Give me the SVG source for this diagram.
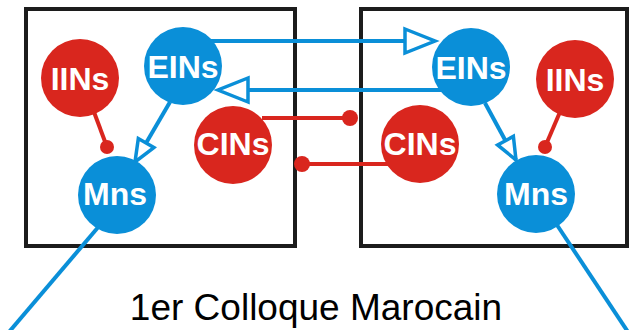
<svg xmlns="http://www.w3.org/2000/svg" width="632" height="330" viewBox="0 0 632 330">
<style>
.box{fill:none;stroke:#1c1c1c;stroke-width:4}
.b{fill:#0a8fd8}
.r{fill:#d9261e}
.lb{font-family:"Liberation Sans",Arial,sans-serif;font-weight:bold;font-size:32px;fill:#fff;text-anchor:middle}
.bl{stroke:#0a8fd8;stroke-width:4;fill:none}
.rl{stroke:#d9261e;stroke-width:4;fill:none}
.title{font-family:"Liberation Sans",Arial,sans-serif;font-size:37px;fill:#000;text-anchor:middle}
</style>
<defs>
<marker id="big" markerUnits="userSpaceOnUse" markerWidth="40" markerHeight="32" viewBox="-4 -4 40 32" refX="30" refY="12" orient="auto" overflow="visible">
<path d="M0,0 L30,12 L0,24 Z" fill="#fff" stroke="#0a8fd8" stroke-width="3.5" stroke-linejoin="miter"/>
</marker>
<marker id="small" markerUnits="userSpaceOnUse" markerWidth="30" markerHeight="26" viewBox="-4 -4 30 26" refX="22" refY="9" orient="auto" overflow="visible">
<path d="M0,0 L22,9 L0,18 Z" fill="#fff" stroke="#0a8fd8" stroke-width="3.5"/>
</marker>
</defs>
<rect width="632" height="330" fill="#fff"/>
<g id="boxes">
<rect class="box" x="26" y="9" width="269" height="237"/>
<rect class="box" x="361" y="9" width="266" height="237"/>
</g>
<g id="connectors">
<line class="bl" x1="205" y1="41" x2="435" y2="41" marker-end="url(#big)"/>
<line class="bl" x1="445" y1="90" x2="218" y2="90" marker-end="url(#big)"/>
<line class="bl" x1="170" y1="102" x2="135" y2="162" marker-end="url(#small)"/>
<line class="bl" x1="485" y1="103" x2="516" y2="160" marker-end="url(#small)"/>
<line class="rl" x1="262" y1="118" x2="350" y2="118"/>
<circle class="r" cx="350" cy="118" r="8"/>
<line class="rl" x1="395" y1="164" x2="302" y2="164"/>
<circle class="r" cx="302" cy="164" r="8"/>
<line class="rl" x1="94" y1="112" x2="107" y2="147"/>
<circle class="r" cx="107" cy="147" r="7"/>
<line class="rl" x1="560" y1="112" x2="545" y2="147"/>
<circle class="r" cx="545" cy="147" r="7"/>
<line class="bl" x1="100" y1="225" x2="9" y2="332"/>
<line class="bl" x1="557" y1="225" x2="628" y2="332"/>
</g>
<g id="IINs-left"><circle class="r" cx="80" cy="78" r="39"/><text class="lb" x="80" y="90">IINs</text></g>
<g id="EINs-left"><circle class="b" cx="183" cy="66" r="39"/><text class="lb" x="183" y="78">EINs</text></g>
<g id="CINs-left"><circle class="r" cx="233" cy="145" r="39"/><text class="lb" x="233" y="155">CINs</text></g>
<g id="Mns-left"><circle class="b" cx="117" cy="195" r="39"/><text class="lb" x="115" y="205">Mns</text></g>
<g id="EINs-right"><circle class="b" cx="471" cy="67" r="39"/><text class="lb" x="471" y="79">EINs</text></g>
<g id="IINs-right"><circle class="r" cx="575" cy="79" r="39"/><text class="lb" x="575" y="91">IINs</text></g>
<g id="CINs-right"><circle class="r" cx="420" cy="144" r="39"/><text class="lb" x="420" y="155">CINs</text></g>
<g id="Mns-right"><circle class="b" cx="536" cy="194" r="39"/><text class="lb" x="536" y="205">Mns</text></g>
<text class="title" x="316" y="320">1er Colloque Marocain</text>
</svg>
